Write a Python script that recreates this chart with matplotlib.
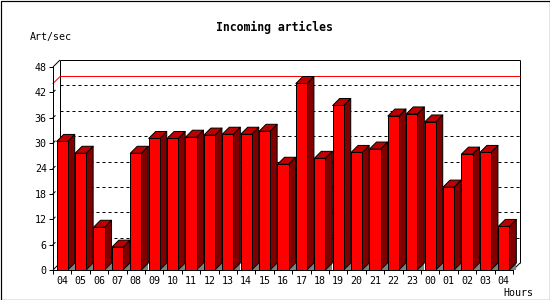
import matplotlib
matplotlib.use("Agg")
import matplotlib.pyplot as plt
import numpy as np
from matplotlib.collections import PolyCollection
from matplotlib.patches import Rectangle

# ---- data ----
hours = ["04", "05", "06", "07", "08", "09", "10", "11", "12", "13", "14", "15",
         "16", "17", "18", "19", "20", "21", "22", "23", "00", "01", "02", "03", "04"]
values = [30.4, 27.6, 10.1, 5.4, 27.6, 31.1, 31.1, 31.4, 31.9, 32.1, 32.1, 32.8,
          25.0, 44.1, 26.4, 38.9, 27.8, 28.6, 36.4, 36.9, 35.0, 19.6, 27.4, 27.8, 10.3]
yticks = [0, 6, 12, 18, 24, 30, 36, 42, 48]
title = "Incoming articles"
ylabel = "Art/sec"
xlabel = "Hours"

FRONT = "#ff0000"
SIDE = "#800000"
TOP = "#c00000"
FLOOR = "#808080"
PX = 0.72  # one pixel in points at dpi 100

W, H = 550, 300
fig = plt.figure(figsize=(W / 100, H / 100), dpi=100)
fig.patch.set_facecolor("white")

# front plane of the 3-D box
L, R, B, T = 53, 513, 270, 67
ax = fig.add_axes([L / W, (H - B) / H, (R - L) / W, (B - T) / H])
ax.set_facecolor("none")
n = len(values)
ax.set_xlim(0, n)
ax.set_ylim(0, 48)

depth_px = 7
dx = depth_px * n / (R - L)
dy = depth_px * 48 / (B - T)

x = np.arange(n)
v = np.array(values)
bw0, bw1 = 0.2, 0.8

mono = "DejaVu Sans Mono"

# back plane gridlines (dotted, 3px on / 3px off)
for t in yticks[1:-1]:
    ax.plot([dx, n + dx], [t + dy, t + dy], color="black", lw=PX,
            linestyle=(0, (3, 3)), dash_capstyle="butt",
            clip_on=False, zorder=1)

# box outline (back walls)
kw = dict(color="black", lw=PX, clip_on=False, zorder=1.5, solid_capstyle="butt")
ax.plot([dx, dx], [dy, 48 + dy], **kw)
ax.plot([dx, n + dx], [48 + dy, 48 + dy], **kw)
ax.plot([n + dx, n + dx], [dy, 48 + dy], **kw)
ax.plot([0, dx], [48, 48 + dy], **kw)
ax.plot([0, dx], [0, dy], **kw)
ax.plot([n, n + dx], [0, dy], **kw)

# maximum line
m = max(values)
ax.plot([0, dx, n + dx], [m, m + dy, m + dy], color="#ff0000", lw=PX,
        clip_on=False, zorder=1.6)

# floor shadows
tris = [[(xi + bw1, 0), (xi + bw1 + dx, 0), (xi + bw1 + dx, dy)] for xi in x]
ax.add_collection(PolyCollection(tris, facecolors=FLOOR, edgecolors="none",
                                 clip_on=False, zorder=2))

# bars: side and top faces
sides = [[(xi + bw1, 0), (xi + bw1 + dx, dy), (xi + bw1 + dx, h + dy), (xi + bw1, h)]
         for xi, h in zip(x, v)]
tops = [[(xi + bw0, h), (xi + bw0 + dx, h + dy), (xi + bw1 + dx, h + dy), (xi + bw1, h)]
        for xi, h in zip(x, v)]
ax.add_collection(PolyCollection(sides, facecolors=SIDE, edgecolors="black",
                                 linewidths=PX, clip_on=False, zorder=3))
ax.add_collection(PolyCollection(tops, facecolors=TOP, edgecolors="black",
                                 linewidths=PX, clip_on=False, zorder=3))
ax.bar(x + bw0, v, width=bw1 - bw0, align="edge", color=FRONT,
       edgecolor="black", linewidth=PX, zorder=4, clip_on=False)

# tick depth marks on the left wall
for t in yticks[1:-1]:
    ax.plot([0, dx * 0.3], [t, t + dy * 0.3], color="black", lw=PX,
            clip_on=False, zorder=1.5)

# spines / ticks
for s in ["top", "right"]:
    ax.spines[s].set_visible(False)
for s in ["left", "bottom"]:
    ax.spines[s].set_linewidth(PX)
    ax.spines[s].set_zorder(5)

ax.set_yticks(yticks)
ax.set_yticklabels([str(t) for t in yticks], fontfamily=mono, fontsize=7.2)
ax.tick_params(axis="y", length=3, width=PX, pad=1.5, direction="out")

ax.set_xticks(x + 0.5)
ax.set_xticklabels(hours, fontfamily=mono, fontsize=7.2)
ax.set_xticks(np.arange(n + 1), minor=True)
ax.tick_params(axis="x", which="major", length=0, pad=4)
ax.tick_params(axis="x", which="minor", length=3, width=PX, direction="out")

# texts
fig.text(274 / W, 1 - 27 / H, title, ha="center", va="center",
         fontfamily=mono, fontweight="bold", fontsize=8.3)
fig.text(30 / W, 1 - 37 / H, ylabel, ha="left", va="center",
         fontfamily=mono, fontsize=7.2)
fig.text(533 / W, 1 - 293 / H, xlabel, ha="right", va="center",
         fontfamily=mono, fontsize=7.2)

# outer border
fig.patches.append(Rectangle((0.5 / W, 0.5 / H), 1 - 1 / W, 1 - 1 / H,
                             transform=fig.transFigure, fill=False,
                             edgecolor="black", linewidth=PX * 1.2))

fig.savefig("out.png", dpi=100)
